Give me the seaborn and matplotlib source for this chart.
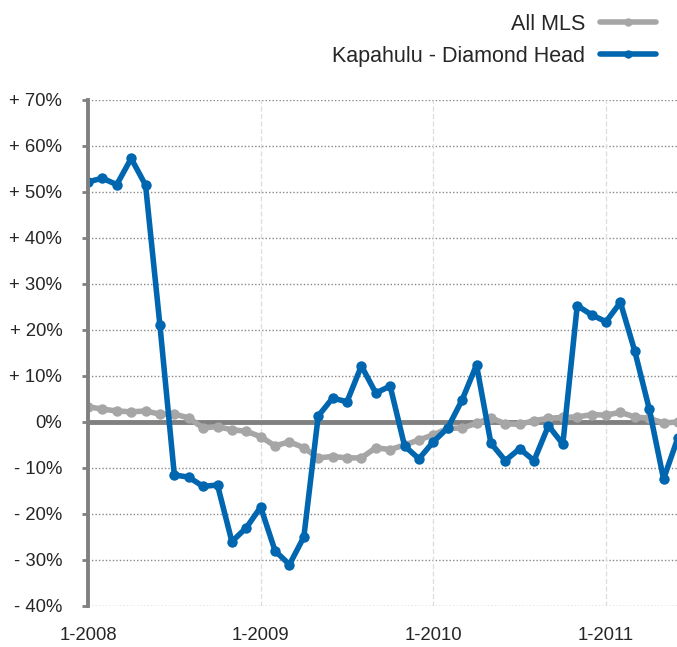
import matplotlib
matplotlib.use("Agg")
import matplotlib.pyplot as plt
import seaborn as sns
import pandas as pd
import numpy as np

# ---- data ----
months = list(range(42))  # month index from 1-2008
all_mls = [3.3, 2.8, 2.4, 2.2, 2.4, 1.7, 1.7, 0.9, -1.3, -1.0, -1.7, -2.0,
           -3.2, -5.2, -4.3, -5.6, -7.8, -7.5, -7.8, -7.8, -5.6, -6.0,
           -5.0, -3.9, -2.8, -1.4, -1.3, -0.3, 0.9, -0.4, -0.5, 0.3,
           0.8, 1.0, 1.1, 1.6, 1.5, 2.1, 1.1, 0.8, -0.2, 0.0]
kapahulu = [52.2, 53.0, 51.6, 57.3, 51.5, 21.0, -11.5, -12.0, -14.0, -13.7, -26.0, -23.0,
            -18.5, -28.0, -31.0, -25.0, 1.3, 5.2, 4.4, 12.2, 6.3, 7.8,
            -5.2, -8.0, -4.3, -1.3, 4.8, 12.4, -4.6, -8.4, -5.8, -8.4,
            -0.8, -4.8, 25.3, 23.3, 21.8, 26.0, 15.4, 2.9, -12.4, -3.4]
series_names = ["All MLS", "Kapahulu - Diamond Head"]
year_ticks = [0, 12, 24, 36]
year_labels = ["1-2008", "1-2009", "1-2010", "1-2011"]
y_ticks = [70, 60, 50, 40, 30, 20, 10, 0, -10, -20, -30, -40]
y_labels = ["+ 70%", "+ 60%", "+ 50%", "+ 40%", "+ 30%", "+ 20%", "+ 10%", "0%",
            "- 10%", "- 20%", "- 30%", "- 40%"]

df = pd.DataFrame({
    "month": months * 2,
    "value": all_mls + kapahulu,
    "series": [series_names[0]] * len(months) + [series_names[1]] * len(months),
})

sns.set_theme(style="white")
plt.rcParams["font.family"] = ["Liberation Sans", "DejaVu Sans"]

fig = plt.figure(figsize=(6.77, 6.47), dpi=100)
ax = fig.add_axes([88 / 677, 1 - 606 / 647, 1 - 88 / 677, (606 - 100) / 647])

palette = {series_names[0]: "#a6a6a6", series_names[1]: "#0066b0"}
sns.lineplot(data=df, x="month", y="value", hue="series", palette=palette,
             marker="o", markersize=7.5, markeredgewidth=0, linewidth=4.0,
             ax=ax, legend=True, sort=False)

ax.set_xlim(0, (677 - 88) / ((606 - 88) / 36))
ax.set_ylim(-40, 70)

# grid
for yv in y_ticks:
    if yv == 0:
        continue
    ax.axhline(yv, color="#888888", linestyle=(0, (1, 1.5)), linewidth=1.0, zorder=0)
for xv in year_ticks[1:]:
    ax.axvline(xv, color="#dddddd", linestyle=(0, (4, 2)), linewidth=0.9, zorder=0)
ax.axhline(0, color="#808080", linewidth=3.5, zorder=1)

for s in ["top", "right", "bottom"]:
    ax.spines[s].set_visible(False)
ax.spines["left"].set_color("#808080")
ax.spines["left"].set_linewidth(2.8)

ax.set_yticks(y_ticks)
ax.set_yticklabels(y_labels, fontsize=13.3)
ax.set_xticks(year_ticks)
ax.set_xticklabels(year_labels, fontsize=13.3)
ax.tick_params(axis="y", length=4.5, width=2, color="#808080", pad=14, left=True)
ax.tick_params(axis="x", length=0, pad=15)
ax.set_xlabel("")
ax.set_ylabel("")

handles, labels = ax.get_legend_handles_labels()
ax.get_legend().remove()
leg = fig.legend(handles, labels, loc="upper right", bbox_to_anchor=(656 / 677, 1 - 14 / 647),
                 markerfirst=False, frameon=False, fontsize=15.5, handlelength=2.6,
                 labelspacing=0.5, handletextpad=0.7, borderpad=0, borderaxespad=0)
for h in leg.legend_handles:
    h.set_linewidth(4)
    h.set_markersize(6)

fig.savefig("out.png", dpi=100)
